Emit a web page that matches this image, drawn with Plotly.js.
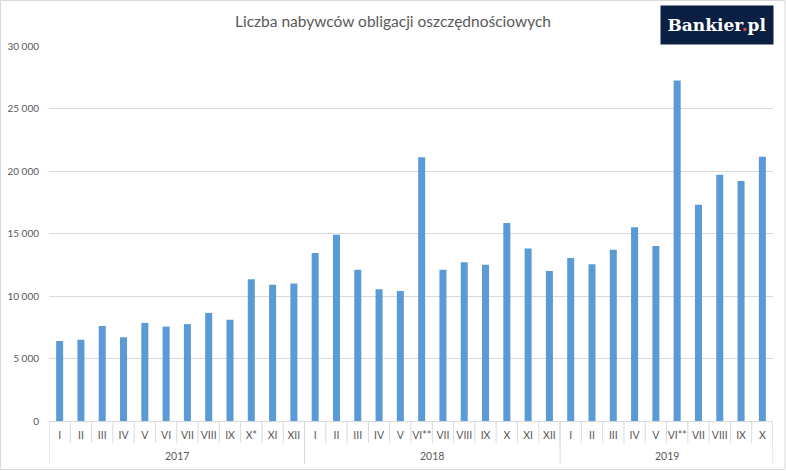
<!DOCTYPE html>
<html>
<head>
<meta charset="utf-8">
<script src="https://cdn.plot.ly/plotly-3.0.1.min.js"></script>
<style>
  html, body { margin: 0; padding: 0; background: #fff; }
  #chart { width: 786px; height: 471px; }
</style>
</head>
<body>
<div id="chart"></div>
<script>
const chartTitle = "Liczba nabywców obligacji oszczędnościowych";
const years = ["2017", "2018", "2019"];
const monthsPerYear = [
  ["I","II","III","IV","V","VI","VII","VIII","IX","X*","XI","XII"],
  ["I","II","III","IV","V","VI**","VII","VIII","IX","X","XI","XII"],
  ["I","II","III","IV","V","VI**","VII","VIII","IX","X"]
];
const values2017 = [6400, 6500, 7600, 6700, 7850, 7550, 7750, 8650, 8100, 11350, 10900, 11000];
const values2018 = [13450, 14900, 12100, 10550, 10400, 21100, 12100, 12700, 12500, 15850, 13800, 12000];
const values2019 = [13050, 12550, 13700, 15500, 14000, 27250, 17300, 19700, 19200, 21150];
const yTicks = [0, 5000, 10000, 15000, 20000, 25000, 30000];

const valuesPerYear = [values2017, values2018, values2019];
const xIdx = [], xMonth = [], yVal = [];
const yearStart = [], yearEnd = [];
let k = 0;
years.forEach((yr, i) => {
  yearStart.push(k);
  monthsPerYear[i].forEach((m, j) => {
    xIdx.push(k);
    xMonth.push(m);
    yVal.push(valuesPerYear[i][j]);
    k++;
  });
  yearEnd.push(k - 1);
});
const n = xIdx.length;

const gray = "#595959";
const lineGray = "#d9d9d9";
const font = "Lato, 'Open Sans', sans-serif";

const trace = {
  type: "bar",
  x: xIdx,
  y: yVal,
  marker: { color: "#5b9bd5" },
  hoverinfo: "y"
};

const W = 786, H = 471;
const mL = 49, mR = 13, mT = 46, mB = 50;
const pw = W - mL - mR, ph = H - mT - mB;
const px2x = p => (p - mL) / pw;
const px2y = p => (H - mB - p) / ph;

const shapes = [
  {
    type: "rect", xref: "paper", yref: "paper",
    x0: px2x(0.5), x1: px2x(785), y0: px2y(469.5), y1: px2y(0.5),
    line: { color: lineGray, width: 1 }, fillcolor: "rgba(0,0,0,0)", layer: "below"
  }
];
// month separators
for (let i = 0; i <= n; i++) {
  shapes.push({
    type: "line", xref: "x", yref: "paper",
    x0: i - 0.5, x1: i - 0.5, y0: px2y(421), y1: px2y(443),
    line: { color: lineGray, width: 1 }
  });
}
// year dividers
const yearBounds = [yearStart[0] - 0.5].concat(yearEnd.map(e => e + 0.5));
yearBounds.forEach(b => {
  shapes.push({
    type: "line", xref: "x", yref: "paper",
    x0: b, x1: b, y0: px2y(421), y1: px2y(464),
    line: { color: lineGray, width: 1 }
  });
});

const annotations = years.map((yr, i) => ({
  xref: "x", yref: "paper",
  x: (yearStart[i] + yearEnd[i]) / 2, y: px2y(456),
  xanchor: "center", yanchor: "middle",
  showarrow: false, text: yr,
  font: { family: font, size: 10.5, color: gray }
}));
annotations.push({
  xref: "paper", yref: "paper",
  x: px2x(717), y: px2y(25),
  xanchor: "center", yanchor: "middle",
  width: 110, height: 36,
  bgcolor: "#0b1f42",
  showarrow: false,
  text: "Bankier<span style='color:#e8532b'>.</span>pl",
  font: { family: "'DejaVu Serif', serif", size: 17, color: "#ffffff", weight: "bold" }
});

const layout = {
  width: W, height: H,
  margin: { l: mL, r: mR, t: mT, b: mB, pad: 0 },
  paper_bgcolor: "#ffffff",
  plot_bgcolor: "#ffffff",
  separators: ", ",
  font: { family: font, color: gray, size: 11 },
  title: {
    text: chartTitle,
    font: { family: font, size: 15.5, color: gray },
    xref: "container", yref: "container",
    x: 0.5, xanchor: "center",
    y: 1 - 21.5 / H, yanchor: "middle"
  },
  bargap: 0.67,
  showlegend: false,
  xaxis: {
    range: [-0.5, n - 0.5],
    tickvals: xIdx, ticktext: xMonth, tickangle: 0,
    showline: true, linecolor: lineGray, linewidth: 1,
    ticks: "", ticklabelstandoff: 4,
    tickfont: { family: font, size: 10.5, color: gray },
    showgrid: false, zeroline: false, fixedrange: true
  },
  yaxis: {
    range: [0, 30000],
    tickvals: yTicks,
    tickformat: ",d",
    showgrid: true, gridcolor: lineGray, gridwidth: 1,
    zeroline: false, showline: false,
    ticks: "", ticklabelstandoff: 9,
    tickfont: { family: font, size: 10, color: gray },
    fixedrange: true
  },
  shapes: shapes,
  annotations: annotations
};

Plotly.newPlot("chart", [trace], layout, { displayModeBar: false, staticPlot: true });
</script>
</body>
</html>
